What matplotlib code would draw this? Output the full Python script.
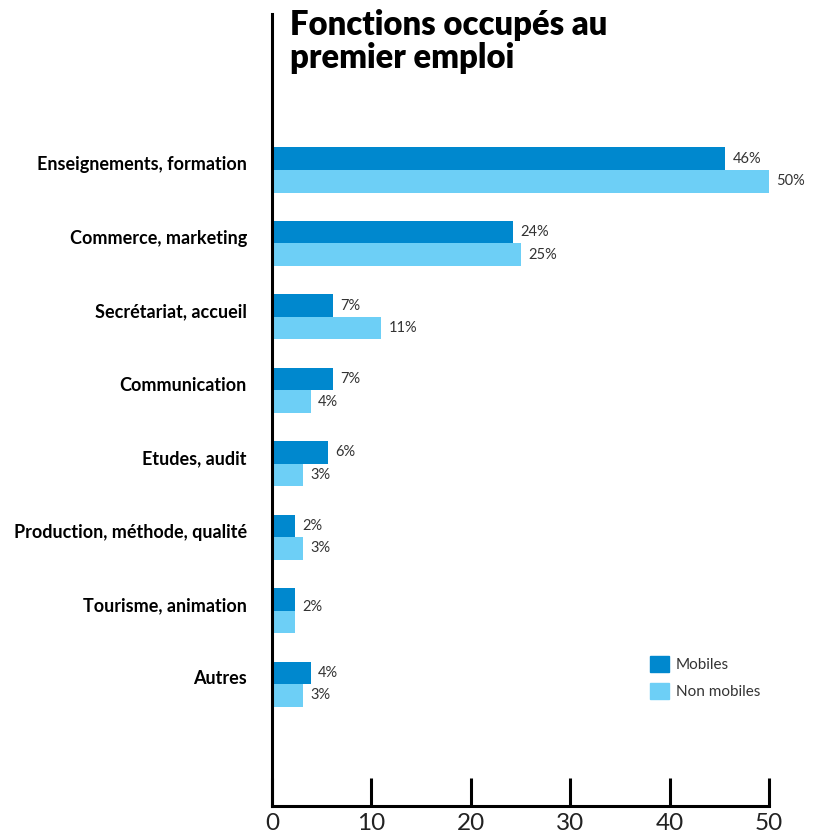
import matplotlib
matplotlib.use("Agg")
import matplotlib.pyplot as plt
from matplotlib.patches import Patch
import numpy as np

categories = ["Enseignements, formation", "Commerce, marketing", "Secrétariat, accueil",
              "Communication", "Etudes, audit", "Production, méthode, qualité",
              "Tourisme, animation", "Autres"]
mobiles = [45.6, 24.2, 6.1, 6.1, 5.6, 2.3, 2.3, 3.9]
non_mobiles = [50.0, 25.0, 11.0, 3.9, 3.1, 3.1, 2.3, 3.1]
mobiles_labels = ["46%", "24%", "7%", "7%", "6%", "2%", "2%", "4%"]
non_mobiles_labels = ["50%", "25%", "11%", "4%", "3%", "3%", "2%", "3%"]
xticks = [0, 10, 20, 30, 40, 50]

dark = "#0088ce"
light = "#6dcff6"

plt.rcParams["font.family"] = ["Lato", "DejaVu Sans"]

fig = plt.figure(figsize=(8.21, 8.36), dpi=100)
ax = fig.add_axes([0.3313, 0.0359, 0.6054, 0.9474])

y = np.arange(len(categories))
h = 0.307
ax.barh(y - h / 2, mobiles, height=h, color=dark, label="Mobiles")
ax.barh(y + h / 2, non_mobiles, height=h, color=light, label="Non mobiles")

for i in range(len(categories)):
    if mobiles_labels[i] == non_mobiles_labels[i] and abs(mobiles[i] - non_mobiles[i]) < 0.5:
        ax.text(max(mobiles[i], non_mobiles[i]) + 0.75, y[i] - 0.05, mobiles_labels[i],
                va="center", ha="left", fontsize=10.5, color="#333333")
        continue
    ax.text(mobiles[i] + 0.75, y[i] - h / 2, mobiles_labels[i],
            va="center", ha="left", fontsize=10.5, color="#333333")
    ax.text(non_mobiles[i] + 0.75, y[i] + h / 2, non_mobiles_labels[i],
            va="center", ha="left", fontsize=10.5, color="#333333")

ax.set_xlim(0, 50)
ax.set_ylim(len(categories) - 1 + 1.66, -2.125)
ax.set_xticks(xticks)
ax.set_xticklabels([str(t) for t in xticks], fontsize=17.5, color="#222222")
ax.tick_params(axis="x", direction="in", length=20, width=2.2, pad=5)
ax.set_yticks(y - 0.09)
ax.set_yticklabels(categories, fontsize=13, fontweight="bold")
ax.tick_params(axis="y", length=0, pad=18)

for s in ["top", "right"]:
    ax.spines[s].set_visible(False)
for s in ["left", "bottom"]:
    ax.spines[s].set_linewidth(2.2)
    ax.spines[s].set_color("black")

fig.text(290 / 821, 1 - 9 / 836, "Fonctions occupés au\npremier emploi", ha="left", va="top",
         fontsize=23.6, fontweight="heavy", linespacing=1.05)

handles = [Patch(color=dark, label="Mobiles"), Patch(color=light, label="Non mobiles")]
ax.legend(handles=handles, loc="upper left", bbox_to_anchor=(0.74, 0.203), frameon=False,
          fontsize=11, handlelength=1.2, handleheight=1.2, handletextpad=0.45, labelspacing=0.75,
          labelcolor="#333333", borderaxespad=0.3)

fig.savefig("out.png", dpi=100)
